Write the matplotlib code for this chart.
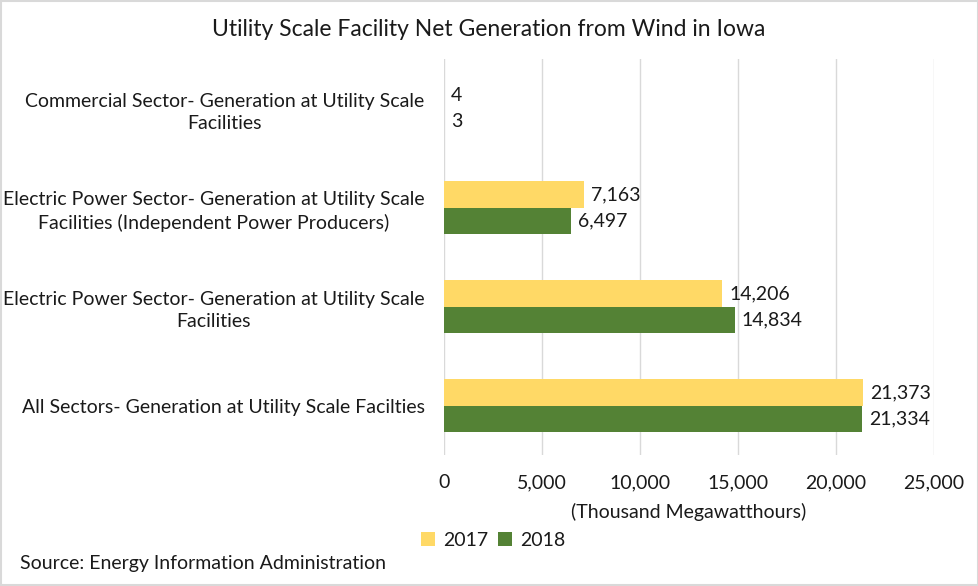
import matplotlib
matplotlib.use('Agg')
import matplotlib.pyplot as plt
from matplotlib.patches import Rectangle

categories = ['All Sectors- Generation at Utility Scale Facilties',
              'Electric Power Sector- Generation at Utility Scale\nFacilities',
              'Electric Power Sector- Generation at Utility Scale\nFacilities (Independent Power Producers)',
              'Commercial Sector- Generation at Utility Scale\nFacilities']
vals_2017 = [21373, 14206, 7163, 4]
vals_2018 = [21334, 14834, 6497, 3]
xticks = [0, 5000, 10000, 15000, 20000, 25000]

yellow = '#FFD966'
green = '#548235'
txt = '#1a1a1a'
fs = 14

plt.rcParams['font.family'] = ['Lato', 'DejaVu Sans']

fig = plt.figure(figsize=(9.79, 5.86), dpi=100)
ax = fig.add_axes([444/979, 1 - 455/586, (934-444)/979, (455-59)/586])

pos = list(range(len(categories)))
h = 0.263
ax.barh([p + h/2 for p in pos], vals_2017, height=h, color=yellow, label='2017', zorder=3)
ax.barh([p - h/2 for p in pos], vals_2018, height=h, color=green, label='2018', zorder=3)

# data labels
for p, v in zip(pos, vals_2017):
    ax.annotate(f'{v:,}', (v, p + h/2), xytext=(5, 0), textcoords='offset points',
                va='center', ha='left', fontsize=fs, color=txt)
for p, v in zip(pos, vals_2018):
    ax.annotate(f'{v:,}', (v, p - h/2), xytext=(5, 0), textcoords='offset points',
                va='center', ha='left', fontsize=fs, color=txt)

ax.set_xlim(0, 25000)
ax.set_ylim(-0.5, 3.5)
ax.set_xticks(xticks)
ax.set_xticklabels([f'{t:,}' for t in xticks], fontsize=fs, color=txt)
ax.set_yticks(pos)
ax.set_yticklabels(categories, fontsize=fs, color=txt, multialignment='center',
                   linespacing=1.35)
ax.tick_params(axis='both', length=0)
ax.tick_params(axis='y', pad=14)
ax.tick_params(axis='x', pad=14)
ax.grid(axis='x', color='#D9D9D9', linewidth=1, zorder=0)
for s in ax.spines.values():
    s.set_visible(False)

ax.set_xlabel('(Thousand Megawatthours)', fontsize=fs, color=txt, labelpad=8)

fig.text(489/979, 1 - 30/586, 'Utility Scale Facility Net Generation from Wind in Iowa',
         ha='center', va='center', fontsize=16.5, color=txt)

leg = fig.legend(loc='center', bbox_to_anchor=(493/979, 1 - 540/586), ncol=2, frameon=False,
                 fontsize=fs, handlelength=0.75, handleheight=0.75, handletextpad=0.4,
                 columnspacing=0.5)
for t in leg.get_texts():
    t.set_color(txt)

fig.text(20/979, 1 - 563/586, 'Source: Energy Information Administration',
         ha='left', va='center', fontsize=fs, color=txt)

fig.patches.append(Rectangle((0.001, 0.001), 0.998, 0.997, transform=fig.transFigure,
                             fill=False, edgecolor='#D9D9D9', linewidth=1.5))

fig.savefig('out.png', dpi=100)
